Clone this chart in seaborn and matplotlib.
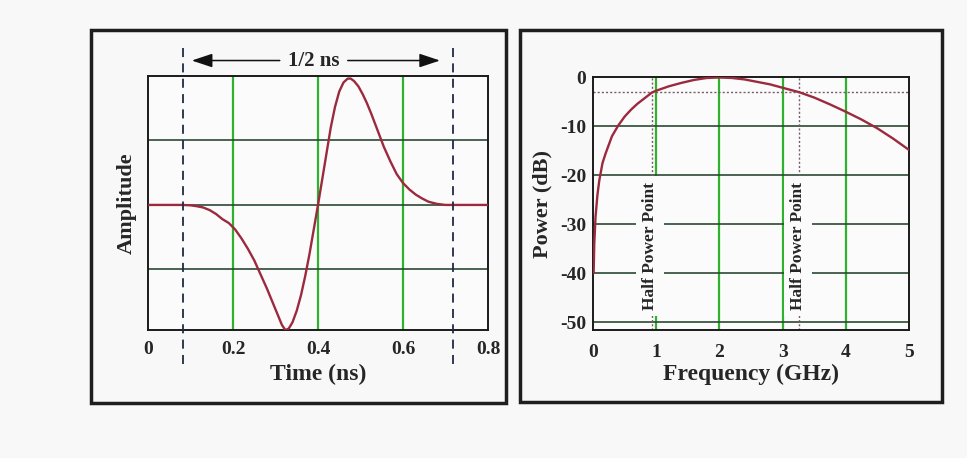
import matplotlib
matplotlib.use("Agg")
import matplotlib.pyplot as plt
import matplotlib.patches as patches
import seaborn as sns

# pulse waveform
time_ns = [0.0, 0.08, 0.1, 0.115, 0.13, 0.145, 0.16, 0.175, 0.19, 0.205,
           0.22, 0.235, 0.25, 0.265, 0.28, 0.295, 0.305, 0.315, 0.323, 0.331,
           0.34, 0.35, 0.36, 0.37, 0.38, 0.39, 0.40, 0.41, 0.42, 0.43,
           0.44, 0.45, 0.46, 0.47, 0.477, 0.485, 0.495, 0.505, 0.515, 0.525,
           0.54, 0.555, 0.57, 0.585, 0.6, 0.615, 0.63, 0.645, 0.66, 0.68,
           0.7, 0.8]
amplitude = [0.0, 0.0, -0.003, -0.01, -0.02, -0.04, -0.07, -0.11, -0.14, -0.19,
             -0.26, -0.34, -0.43, -0.54, -0.65, -0.77, -0.85, -0.93, -0.97, -0.96,
             -0.91, -0.82, -0.70, -0.55, -0.38, -0.19, 0.0, 0.20, 0.40, 0.60,
             0.76, 0.88, 0.95, 0.98, 0.98, 0.96, 0.92, 0.86, 0.79, 0.71,
             0.58, 0.45, 0.34, 0.24, 0.17, 0.12, 0.08, 0.05, 0.025, 0.008,
             0.0, 0.0]

# power spectrum
freq_ghz = [0.01, 0.02, 0.04, 0.07, 0.1, 0.15, 0.2, 0.3, 0.4, 0.5, 0.6, 0.7,
            0.8, 0.93, 1.0, 1.2, 1.4, 1.6, 1.8, 2.0, 2.2, 2.4, 2.6, 2.8, 3.0,
            3.26, 3.5, 3.75, 4.0, 4.25, 4.5, 4.75, 5.0]
power_db = [-40, -34, -28.5, -24, -21, -17.5, -15.5, -12, -9.8, -8.0, -6.6, -5.4,
            -4.4, -3.1, -2.7, -1.8, -1.1, -0.5, -0.1, 0.0, -0.1, -0.4, -0.9, -1.4, -2.1,
            -3.0, -4.1, -5.5, -7.0, -8.6, -10.4, -12.5, -14.8]

pulse_edges = [0.082, 0.718]
half_power_freqs = [0.93, 3.26]
half_power_db = -3

time_ticks = [0, 0.2, 0.4, 0.6, 0.8]
amp_grid = [-0.5, 0, 0.5]
freq_ticks = [0, 1, 2, 3, 4, 5]
power_ticks = [0, -10, -20, -30, -40, -50]

sns.set_style("white")
plt.rcParams["font.family"] = ["Liberation Serif", "DejaVu Serif"]
plt.rcParams["font.weight"] = "bold"

CURVE = "#9c2a3e"
VGRID = "#2fb02f"
HGRID = "#2c4a34"
BG = "#f8f8f8"

fig = plt.figure(figsize=(9.67, 4.58), dpi=100, facecolor=BG)
ax1 = fig.add_axes([148 / 967, 1 - 330 / 458, 340 / 967, 254 / 458])
ax2 = fig.add_axes([593 / 967, 1 - 330 / 458, 316 / 967, 253 / 458])

# outer frames round each panel
for x0, x1, y0, y1 in [(91, 506, 30, 403), (520, 942, 30, 402)]:
    fig.add_artist(patches.Rectangle((x0 / 967, 1 - y1 / 458), (x1 - x0) / 967, (y1 - y0) / 458,
                                     transform=fig.transFigure, fill=False,
                                     edgecolor="#1e1e1e", linewidth=2.5))

for ax in (ax1, ax2):
    ax.set_facecolor("#fbfbfb")
    for s in ax.spines.values():
        s.set_color("#1a1a1a")
        s.set_linewidth(1.4)
    ax.tick_params(length=0, labelsize=14)

# ---- left: time domain pulse
for t in time_ticks[1:-1]:
    ax1.axvline(t, color=VGRID, lw=1.6, zorder=1)
for a in amp_grid:
    ax1.axhline(a, color=HGRID, lw=1.2, zorder=1)
sns.lineplot(x=time_ns, y=amplitude, ax=ax1, color=CURVE, lw=1.7, zorder=3)
ax1.set_xlim(0, 0.8)
ax1.set_ylim(-0.97, 1.0)
ax1.set_xticks(time_ticks)
ax1.set_xticklabels(["0", "0.2", "0.4", "0.6", "0.8"], fontweight="bold")
ax1.set_yticks([])
ax1.tick_params(axis="x", pad=8)
ax1.set_xlabel("Time (ns)", fontsize=17, fontweight="bold", labelpad=4)
ax1.set_ylabel("Amplitude", fontsize=16, fontweight="bold", labelpad=8)

ax1.vlines(pulse_edges, -1.23, 1.23, colors="#1f2a44", linestyles=(0, (5, 3.5)),
           lw=1.3, clip_on=False, zorder=4)
ax1.annotate("", xy=(0.103, 1.12), xytext=(0.31, 1.12), annotation_clip=False,
             arrowprops=dict(arrowstyle="-|>,head_length=0.9,head_width=0.3",
                             color="#111111", lw=1.1, mutation_scale=14, shrinkA=0, shrinkB=0))
ax1.annotate("", xy=(0.687, 1.12), xytext=(0.47, 1.12), annotation_clip=False,
             arrowprops=dict(arrowstyle="-|>,head_length=0.9,head_width=0.3",
                             color="#111111", lw=1.1, mutation_scale=14, shrinkA=0, shrinkB=0))
ax1.text(0.39, 1.12, "1/2 ns", ha="center", va="center", fontsize=15,
         fontweight="bold", clip_on=False)

# ---- right: power spectrum
for f in freq_ticks[1:-1]:
    ax2.axvline(f, color=VGRID, lw=1.6, zorder=1)
for p in power_ticks[1:]:
    ax2.axhline(p, color=HGRID, lw=1.2, zorder=1)
for f in half_power_freqs:
    ax2.axvline(f, color="#7a5a6a", lw=1.0, ls=(0, (1.5, 1.5)), zorder=2)
ax2.axhline(half_power_db, color="#7a5a6a", lw=1.0, ls=(0, (1.5, 1.5)), zorder=2)
sns.lineplot(x=freq_ghz, y=power_db, ax=ax2, color=CURVE, lw=1.7, zorder=3)
for f, xc in zip(half_power_freqs, [0.905, 3.24]):
    ax2.text(xc, -34.4, "Half Power Point", rotation=90, ha="center", va="center",
             fontsize=12.5, fontweight="bold", zorder=5,
             bbox=dict(boxstyle="square,pad=0.35", facecolor="#fbfbfb", edgecolor="none"))
ax2.set_xlim(0, 5)
ax2.set_ylim(-51.6, 0.1)
ax2.set_xticks(freq_ticks)
ax2.set_xticklabels([str(f) for f in freq_ticks], fontweight="bold")
ax2.set_yticks(power_ticks)
ax2.set_yticklabels([str(p) for p in power_ticks], fontweight="bold")
ax2.tick_params(axis="x", pad=10)
ax2.tick_params(axis="y", pad=5)
ax2.set_xlabel("Frequency (GHz)", fontsize=17, fontweight="bold", labelpad=2)
ax2.set_ylabel("Power (dB)", fontsize=16, fontweight="bold", labelpad=5)

fig.savefig("out.png", dpi=100, facecolor=BG)
